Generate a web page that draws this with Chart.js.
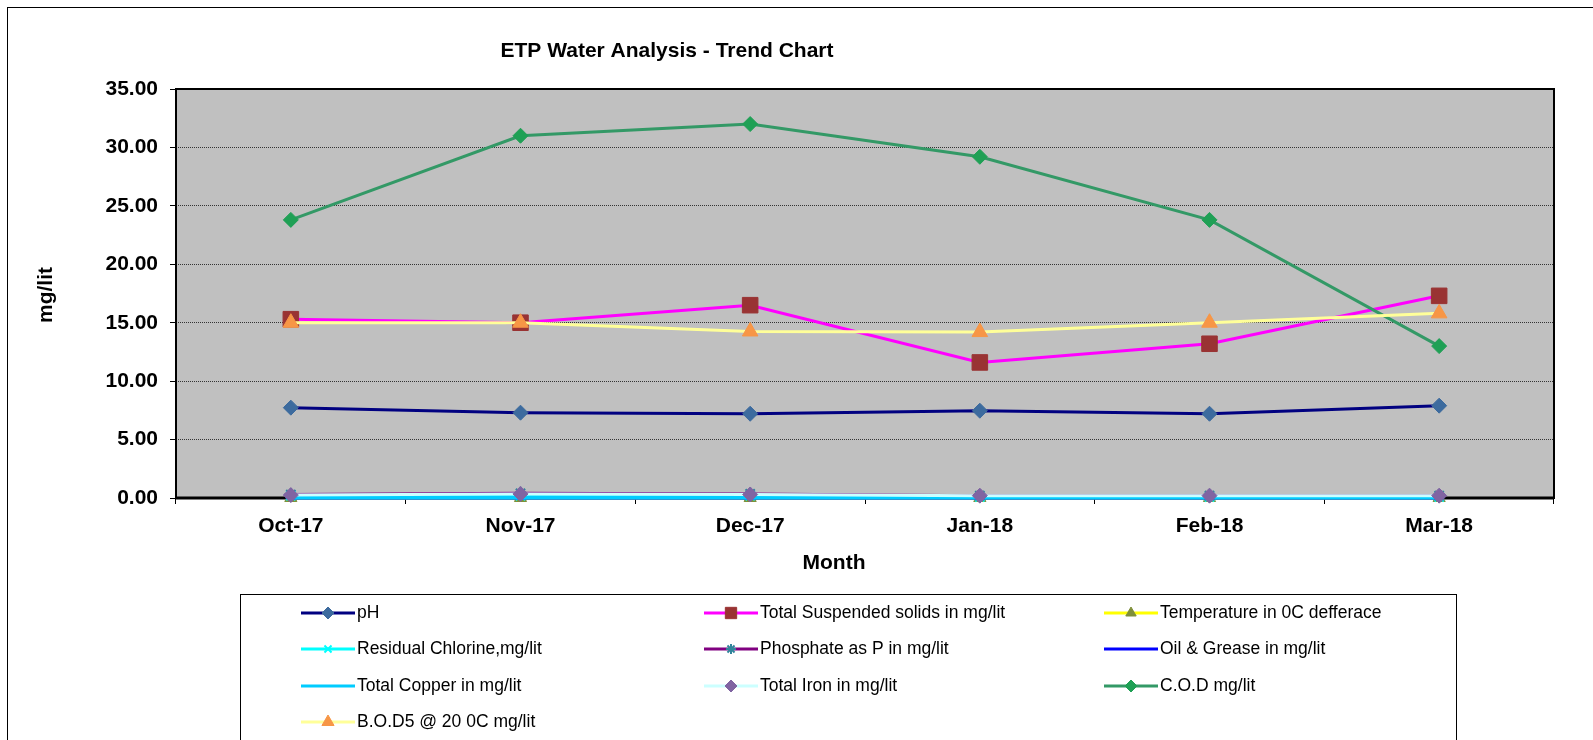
<!DOCTYPE html>
<html>
<head>
<meta charset="utf-8">
<script src="https://cdn.jsdelivr.net/npm/chart.js@4/dist/chart.umd.min.js"></script>
<style>
  html, body { margin: 0; padding: 0; background: #fff; }
  #wrap { width: 1593px; height: 740px; }
</style>
</head>
<body>
<div id="wrap"><canvas id="lineChart"></canvas></div>
<script>
const months = ["Oct-17", "Nov-17", "Dec-17", "Jan-18", "Feb-18", "Mar-18"];
const yTicks = [0, 5, 10, 15, 20, 25, 30, 35];

const ph          = [7.73, 7.30, 7.21, 7.47, 7.21, 7.90];
const tss         = [15.3, 15.0, 16.5, 11.6, 13.2, 17.3];
const temperature = [0.0, 0.0, 0.0, 0.0, 0.0, 0.0];
const chlorine    = [0.2, 0.2, 0.2, 0.1, 0.1, 0.1];
const phosphate   = [0.3, 0.4, 0.35, 0.2, 0.2, 0.2];
const oilGrease   = [0.0, 0.0, 0.0, 0.0, 0.0, 0.0];
const copper      = [0.05, 0.05, 0.05, 0.05, 0.05, 0.05];
const iron        = [0.25, 0.35, 0.3, 0.2, 0.2, 0.2];
const cod         = [23.8, 31.0, 32.0, 29.2, 23.8, 13.0];
const bod         = [15.0, 15.0, 14.25, 14.2, 15.0, 15.8];

const FONT = "'Liberation Sans', Arial, sans-serif";

function series(label, data, line, marker, style, radius, legendRadius, width) {
  return {
    label: label,
    data: data,
    borderColor: line,
    backgroundColor: marker,
    pointBackgroundColor: marker,
    pointBorderColor: marker,
    pointBorderWidth: style === "crossRot" || style === "star" || style === "line" ? 2 : 1,
    pointStyle: style,
    pointRadius: radius,
    pointHoverRadius: radius,
    borderWidth: width || 3,
    tension: 0,
    fill: false,
    clip: 8,
    legendRadius: legendRadius
  };
}

const datasets = [
  series("pH", ph, "#000080", "#3d6b9e", "rectRot", 7.5, 6),
  series("Total Suspended solids in mg/lit", tss, "#ff00ff", "#993333", "rect", 11, 8),
  series("Temperature in 0C defferace", temperature, "#ffff00", "#7f8f3a", "triangle", 7, 6),
  series("Residual Chlorine,mg/lit", chlorine, "#00ffff", "#00ffff", "crossRot", 6.5, 5),
  series("Phosphate as P in mg/lit", phosphate, "#800080", "#31859c", "star", 6.5, 5),
  series("Oil & Grease in mg/lit", oilGrease, "#0000ff", "#0000ff", "line", 5, 4),
  series("Total Copper in mg/lit", copper, "#00ccff", "#00ccff", "line", 5, 4, 4),
  series("Total Iron in mg/lit", iron, "#ccffff", "#8064a2", "rectRot", 7.5, 6),
  series("C.O.D mg/lit", cod, "#339966", "#1fa055", "rectRot", 7.5, 6),
  series("B.O.D5 @ 20 0C mg/lit", bod, "#ffff99", "#f79646", "triangle", 9, 7)
];
// later series on top, like the spreadsheet
datasets.forEach((d, i) => { d.order = datasets.length - i; });

const chartDecor = {
  id: "chartDecor",
  beforeDraw(chart) {
    const ctx = chart.ctx;
    const a = chart.chartArea;
    ctx.save();
    ctx.fillStyle = "#fff";
    ctx.fillRect(0, 0, chart.width, chart.height);
    ctx.fillStyle = "#c0c0c0";
    ctx.fillRect(a.left, a.top, a.right - a.left, a.bottom - a.top);
    ctx.restore();
  },
  beforeDatasetsDraw(chart) {
    const ctx = chart.ctx;
    const a = chart.chartArea;
    ctx.save();
    ctx.strokeStyle = "#000";
    ctx.lineWidth = 2;
    ctx.strokeRect(a.left, a.top, a.right - a.left, a.bottom - a.top);
    ctx.lineWidth = 3;
    ctx.beginPath();
    ctx.moveTo(a.left, a.bottom);
    ctx.lineTo(a.right, a.bottom);
    ctx.stroke();
    ctx.restore();
  },
  afterDraw(chart) {
    const ctx = chart.ctx;
    ctx.save();
    // outer frame
    ctx.strokeStyle = "#000";
    ctx.lineWidth = 1;
    ctx.strokeRect(7.5, 7.5, 1700, 800);

    // titles
    ctx.fillStyle = "#000";
    ctx.font = "bold 21px " + FONT;
    ctx.textAlign = "center";
    ctx.textBaseline = "middle";
    ctx.fillText("ETP Water Analysis - Trend Chart", 667, 51);
    ctx.fillText("Month", 834, 563);
    ctx.save();
    ctx.translate(46, 295);
    ctx.rotate(-Math.PI / 2);
    ctx.fillText("mg/lit", 0, 0);
    ctx.restore();

    // legend
    ctx.strokeStyle = "#000";
    ctx.lineWidth = 1;
    ctx.strokeRect(240.5, 594.5, 1216, 300);
    const colX = [301, 704, 1104];
    const rowY = [613, 649, 686, 722];
    ctx.font = "17.5px " + FONT;
    ctx.textAlign = "left";
    chart.data.datasets.forEach((d, i) => {
      const x = colX[i % 3];
      const y = rowY[Math.floor(i / 3)];
      ctx.strokeStyle = d.borderColor;
      ctx.lineWidth = 3;
      ctx.beginPath();
      ctx.moveTo(x, y);
      ctx.lineTo(x + 54, y);
      ctx.stroke();
      ctx.fillStyle = d.pointBackgroundColor;
      ctx.strokeStyle = d.pointBorderColor;
      ctx.lineWidth = d.pointBorderWidth;
      Chart.helpers.drawPoint(ctx, {
        pointStyle: d.pointStyle,
        radius: d.legendRadius,
        rotation: 0,
        borderWidth: d.pointBorderWidth
      }, x + 27, y);
      ctx.fillStyle = "#000";
      ctx.fillText(d.label, x + 56, y);
    });
    ctx.restore();
  }
};

const CHART = document.getElementById("lineChart");

let lineChart = new Chart(CHART, {
  type: "line",
  data: {
    labels: months,
    datasets: datasets
  },
  options: {
    responsive: true,
    maintainAspectRatio: false,
    animation: false,
    layout: { padding: { left: 0, top: 89, right: 39, bottom: 0 } },
    plugins: {
      legend: { display: false },
      title: { display: false },
      tooltip: { enabled: false }
    },
    scales: {
      x: {
        offset: true,
        grid: {
          offset: true,
          drawOnChartArea: false,
          tickLength: 6,
          tickColor: "#000"
        },
        border: { display: false },
        ticks: {
          color: "#000",
          padding: 10,
          maxRotation: 0,
          font: { family: FONT, size: 21, weight: "bold" }
        },
        afterFit(scale) { scale.height = 242; }
      },
      y: {
        min: 0,
        max: 35,
        afterBuildTicks(scale) { scale.ticks = yTicks.map(v => ({ value: v })); },
        grid: {
          color: "#333",
          lineWidth: 1,
          tickLength: 6,
          tickColor: "#000"
        },
        border: { display: false, dash: [1, 1] },
        ticks: {
          color: "#000",
          padding: 12,
          font: { family: FONT, size: 21, weight: "bold" },
          callback: v => Number(v).toFixed(2)
        },
        afterFit(scale) { scale.width = 176; }
      }
    }
  },
  plugins: [chartDecor]
});
</script>
</body>
</html>
